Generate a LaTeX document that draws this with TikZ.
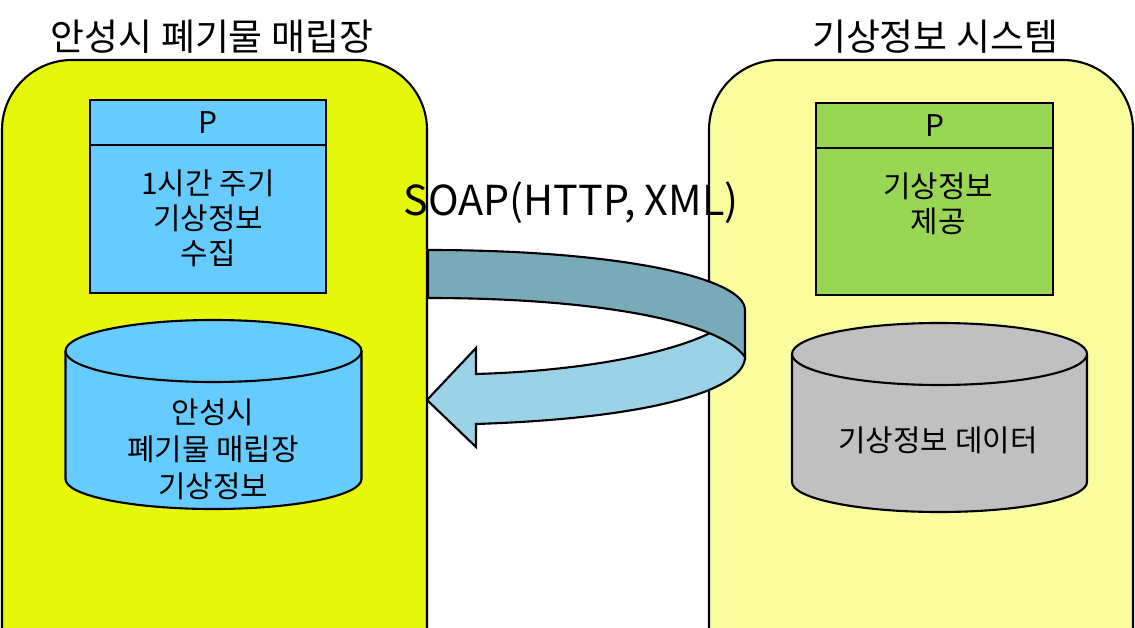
\documentclass[tikz,border=0pt]{standalone}
\usepackage{fontspec}
\setmainfont{Noto Sans CJK KR}
\definecolor{sitegreen}{RGB}{230,247,10}
\definecolor{siteyellow}{RGB}{250,252,158}
\definecolor{procblue}{RGB}{102,204,255}
\definecolor{procgreen}{RGB}{153,214,84}
\definecolor{dbgray}{RGB}{192,192,192}
\definecolor{banddark}{RGB}{120,170,185}
\definecolor{bandlight}{RGB}{155,210,230}
\newcommand{\dbcyl}[5]{% center x, top y, bottom y, x radius, colour
  \fill[#5] (#1-#4,#2) -- (#1-#4,#3) arc[start angle=180, end angle=0, x radius=#4, y radius=30] -- (#1+#4,#2) -- cycle;
  \draw (#1-#4,#2) -- (#1-#4,#3) arc[start angle=180, end angle=0, x radius=#4, y radius=30] -- (#1+#4,#2);
  \draw[fill=#5] (#1,#2) ellipse[x radius=#4, y radius=31]}

\begin{document}
\begin{tikzpicture}[x=0.02cm, y=-0.02cm, line width=1.2pt,
    sitebox/.style={draw=black, rounded corners=1.4cm},
    procbox/.style={draw=black, minimum width=4.72cm, minimum height=3.86cm, inner sep=0pt},
    lbl/.style={font=\fontsize{17}{20}\selectfont, align=center, inner sep=0pt},
    sitetitle/.style={font=\fontsize{21}{24}\selectfont, inner sep=0pt}]
    \useasboundingbox (0,0) rectangle (1135,628);
    \clip (0,0) rectangle (1135,628);
    \fill[white] (0,0) rectangle (1135,628);

    % the two systems
    \node[sitetitle] (lefttitle) at (212,37) {안성시 폐기물 매립장};
    \node[sitetitle] (righttitle) at (935,37) {기상정보 시스템};
    \draw[sitebox, fill=sitegreen] (2,60) rectangle (427,720);
    \draw[sitebox, fill=siteyellow] (709,60) rectangle (1133,720);

    % processes
    \node[procbox, fill=procblue] (collect) at (208,196.5) {};
    \draw ([yshift=-0.92cm]collect.north west) -- ([yshift=-0.92cm]collect.north east);
    \node[lbl] (collectp) at (208,123) {P};
    \node[lbl] (collecttxt) at (208,218) {1시간 주기\\기상정보\\수집};

    \node[procbox, fill=procgreen, minimum width=4.74cm, minimum height=3.84cm] (provide) at (934.5,199) {};
    \draw ([yshift=-0.92cm]provide.north west) -- ([yshift=-0.92cm]provide.north east);
    \node[lbl] (providep) at (934.5,126) {P};
    \node[lbl] (providetxt) at (938,204) {기상정보\\제공};

    % data stores
    \dbcyl{213.5}{351}{479}{148}{procblue};
    \node[lbl, font=\fontsize{17}{21}\selectfont] (localdb) at (213,449) {안성시\\폐기물 매립장\\기상정보};
    \dbcyl{939.5}{354}{482}{147.5}{dbgray};
    \node[lbl] (weatherdb) at (938,440) {기상정보 데이터};

    % SOAP exchange
    \node[inner sep=0pt, font=\fontsize{23.5}{28}\selectfont] (soap) at (571,203) {SOAP(HTTP, XML)};
    \coordinate (tip) at (427,400);
    \draw[fill=bandlight] (745,357) .. controls (745,388) and (660,418) .. (476,424)
        -- (476,447) -- (tip) -- (476,348) -- (476,374)
        .. controls (610,370) and (700,345) .. (728,322) -- cycle;
    \draw[fill=banddark] (428,250) .. controls (620,250) and (745,278) .. (745,310)
        -- (745,357) .. controls (720,322) and (600,298) .. (428,298) -- cycle;
\end{tikzpicture}
\end{document}
